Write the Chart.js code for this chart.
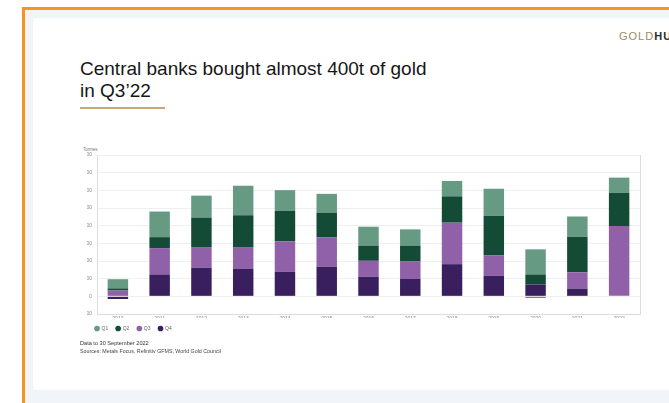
<!DOCTYPE html>
<html>
<head>
<meta charset="utf-8">
<script src="https://cdn.jsdelivr.net/npm/chart.js@4/dist/chart.umd.min.js"></script>
<style>
  html, body { margin: 0; padding: 0; width: 669px; height: 403px; overflow: hidden; background: #ffffff; font-family: "Liberation Sans", Arial, sans-serif; }
  .abs { position: absolute; }
  #frame { left: 22px; top: 7px; width: 700px; height: 420px; border-left: 3px solid #f7941d; border-top: 3px solid #f7941d; background: #f1f5f9; }
  #slide { left: 33px; top: 18px; width: 660px; height: 372px; background: #ffffff; }
  #brand { left: 619px; top: 30px; font-size: 11px; letter-spacing: 1px; white-space: nowrap; }
  #brand .g { color: #9c8a66; }
  #brand .h { color: #2b2b2b; font-weight: bold; }
  #title { left: 80px; top: 58px; font-size: 19px; line-height: 22px; color: #161616; letter-spacing: 0px; }
  #rule { left: 80px; top: 107px; width: 85px; height: 2px; background: #c7a877; }
  #unit { left: 83px; top: 147px; font-size: 4.5px; color: #777; }
  #chartbox { left: 75px; top: 140px; width: 580px; height: 201px; }
  #note1 { left: 80px; top: 340px; font-size: 5.6px; color: #333; }
  #note2 { left: 80px; top: 348px; font-size: 5.3px; color: #444; }
</style>
</head>
<body>
<div id="frame" class="abs"></div>
<div id="slide" class="abs"></div>
<div id="brand" class="abs"><span class="g">GOLD</span><span class="h">HUB</span></div>
<div id="title" class="abs">Central banks bought almost 400t of gold<br>in Q3’22</div>
<div id="rule" class="abs"></div>
<div id="unit" class="abs">Tonnes</div>
<div id="chartbox" class="abs"><canvas id="c" width="580" height="201"></canvas></div>
<div id="note1" class="abs">Data to 30 September 2022</div>
<div id="note2" class="abs">Sources: Metals Focus, Refinitiv GFMS, World Gold Council</div>

<script>
// Central bank net gold purchases by quarter, tonnes
const years = ['2010', '2011', '2012', '2013', '2014', '2015', '2016', '2017', '2018', '2019', '2020', '2021', '2022'];
const q1 = [52, 145, 124, 167, 117, 106, 107, 92, 87, 154, 142, 115, 86];
const q2 = [12, 62, 167, 180, 172, 139, 86, 90, 149, 224, 57, 201, 188];
const q3 = [33, 149, 117, 124, 172, 167, 90, 99, 235, 114, -9, 92, 398];
const q4 = [-15, 124, 162, 155, 140, 168, 111, 98, 182, 117, 67, 44, null];
const yTicks = [-100, 0, 100, 200, 300, 400, 500, 600, 700, 800];

const FONT = '"Liberation Sans", Arial, sans-serif';
const colors = { q1: '#679a83', q2: '#134b36', q3: '#9061a8', q4: '#3a1f5e' };

// Q4 sits at the bottom of each stack, Q1 on top; legend is reversed to read Q1..Q4
const datasets = [
  { label: 'Q4', data: q4, backgroundColor: colors.q4 },
  { label: 'Q3', data: q3, backgroundColor: colors.q3 },
  { label: 'Q2', data: q2, backgroundColor: colors.q2 },
  { label: 'Q1', data: q1, backgroundColor: colors.q1 }
];

new Chart(document.getElementById('c'), {
  type: 'bar',
  data: { labels: years, datasets },
  options: {
    responsive: false,
    animation: false,
    categoryPercentage: 1,
    barPercentage: 0.49,
    layout: { padding: { left: 12, right: 15, top: 15, bottom: 0 } },
    plugins: {
      tooltip: { enabled: false },
      legend: {
        position: 'bottom',
        align: 'start',
        reverse: true,
        labels: {
          usePointStyle: true,
          pointStyle: 'circle',
          boxWidth: 4,
          boxHeight: 4,
          padding: 8,
          color: '#666',
          font: { size: 5, family: FONT }
        }
      }
    },
    scales: {
      x: {
        stacked: true,
        afterFit: (s) => { s.height = s.height - 6; },
        grid: { display: false, drawTicks: false },
        border: { display: true, color: '#dcdcdc' },
        ticks: { padding: 2, color: '#888', font: { size: 5, family: FONT } }
      },
      y: {
        stacked: true,
        min: -100,
        max: 800,
        afterBuildTicks: (s) => { s.ticks = yTicks.map(v => ({ value: v })); },
        afterFit: (s) => { s.width = 10; },
        grid: { color: '#efefef', drawTicks: false },
        border: { display: true, color: '#dcdcdc' },
        ticks: { padding: 5, color: '#888', font: { size: 5, family: FONT } }
      },
      yRight: {
        position: 'right',
        min: -100,
        max: 800,
        afterFit: (s) => { s.width = 0; },
        grid: { display: false, drawTicks: false },
        border: { display: true, color: '#dcdcdc' },
        ticks: { display: false }
      }
    }
  }
});
</script>
</body>
</html>
